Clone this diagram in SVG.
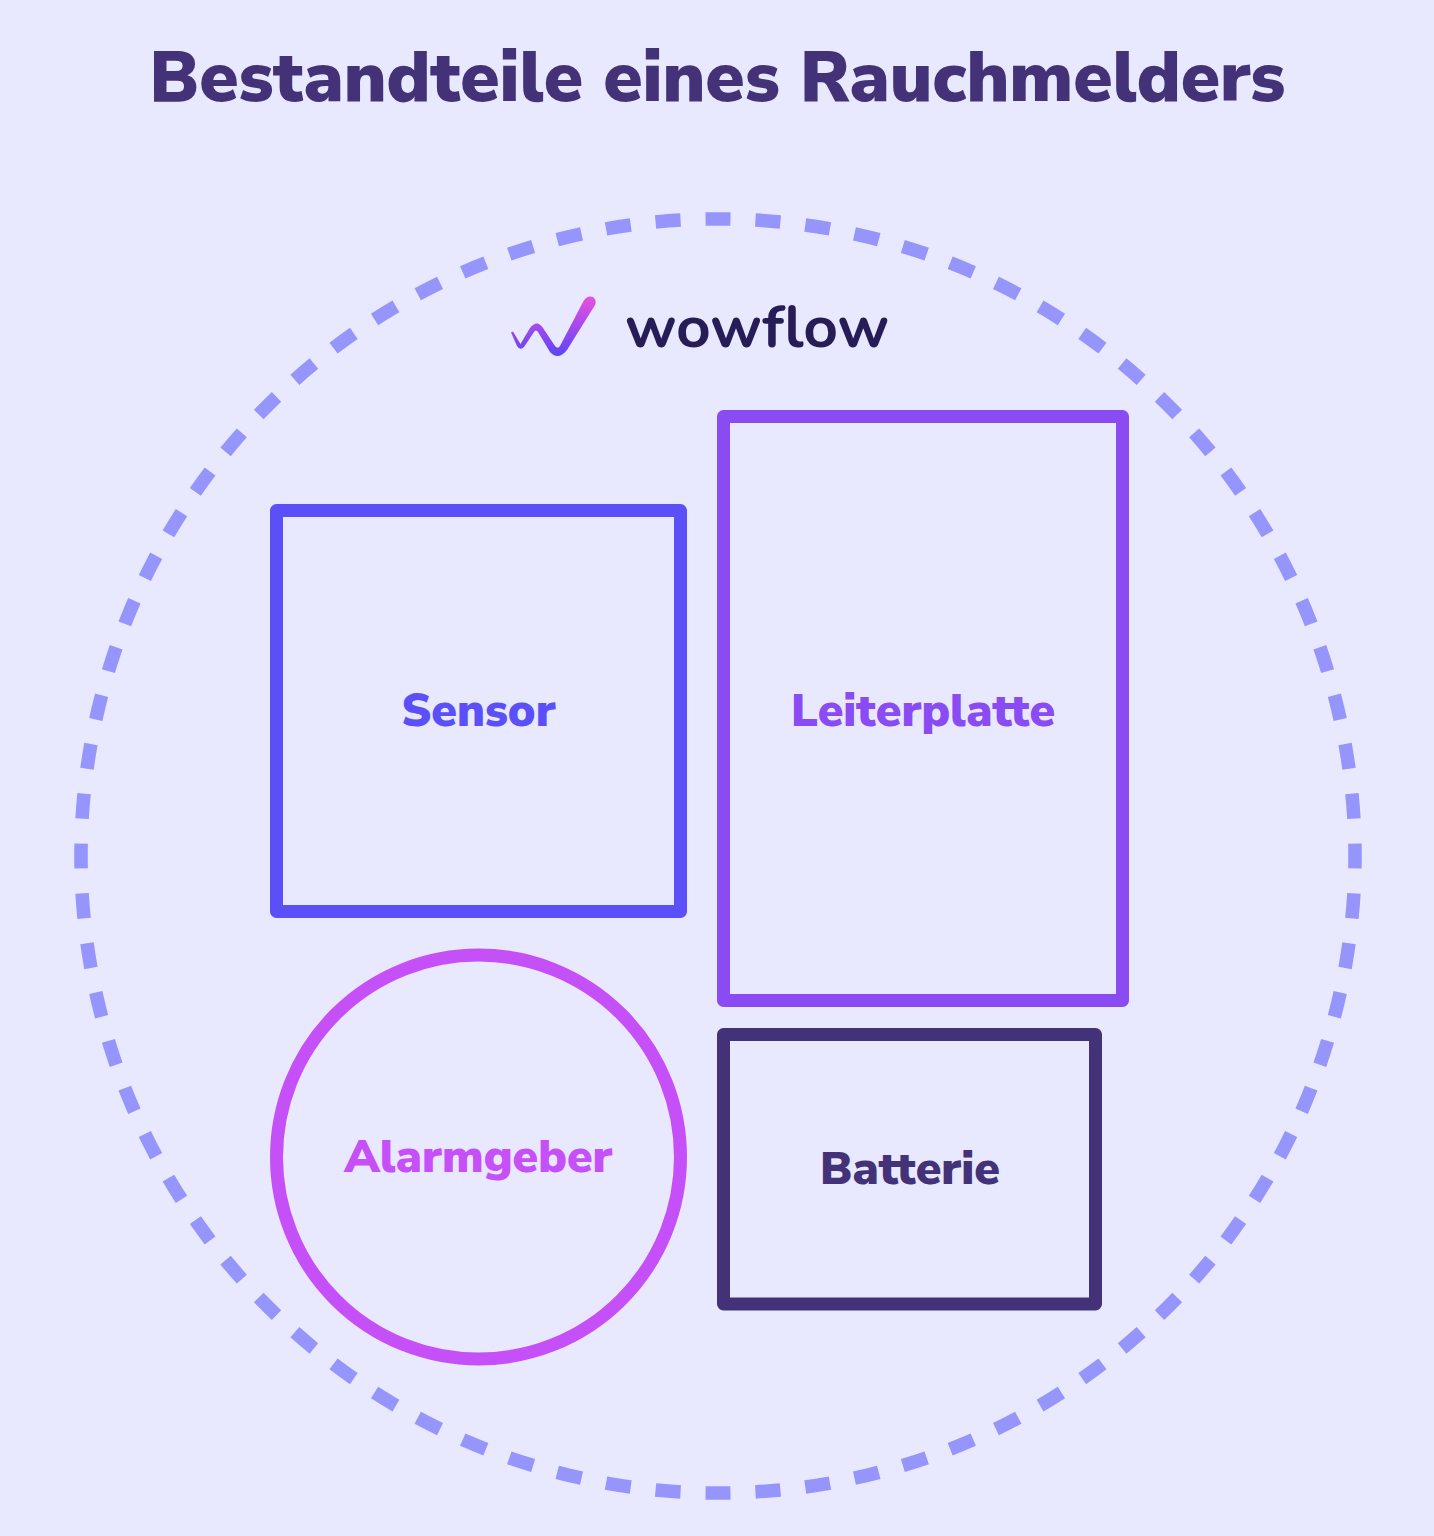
<svg xmlns="http://www.w3.org/2000/svg" width="1434" height="1536" viewBox="0 0 1434 1536">
<style>
.t{font-family:"Nunito Sans","Nunito","Lato","Noto Sans",sans-serif;font-weight:900;text-anchor:middle}
.b{fill:none;stroke-width:13;stroke-linejoin:round}
.l{font-size:46.200px}
</style>
<defs><linearGradient id="g" gradientUnits="userSpaceOnUse" x1="560" y1="356" x2="560" y2="298"><stop offset="0" stop-color="#5b45f7"/><stop offset="1" stop-color="#e84fe0"/></linearGradient></defs>
<rect width="1434" height="1536" fill="#e8e8fe"/>
<text id="title" class="t" x="717.500" y="100.500" font-size="70.800" fill="#433278">Bestandteile eines Rauchmelders</text>
<circle id="outer" cx="718" cy="856" r="637" fill="none" stroke="#9595fb" stroke-width="13.500" pathLength="4000" stroke-dasharray="25 25" stroke-dashoffset="12.500"/>
<g id="logo"><path d="M511 332.500 L513 331.500 L520.500 344 L530 328 Q537 319 543 328 L555 346 Q558 349.500 560 346 L583 302 Q587 295 593 297 Q597 300 595 305 L567 350 Q558 361 550 352 L538 332 Q536 329 534 332 L524 347 Q520 351 517 346 Z" fill="url(#g)"/>
<text x="757" y="347" font-family="Nunito,Lato,sans-serif" font-size="60.500" font-weight="700" fill="#261d56" text-anchor="middle">wowflow</text></g>
<g id="sensor"><rect class="b" x="276.500" y="510.500" width="404" height="401" stroke="#5b50f7"/><text class="t l" x="478.500" y="725.500" fill="#5b50f7">Sensor</text></g>
<g id="leiterplatte"><rect class="b" x="723.500" y="416.500" width="399" height="584" stroke="#8a4bf2"/><text class="t l" x="923" y="725.500" fill="#8a4bf2">Leiterplatte</text></g>
<g id="alarmgeber"><circle class="b" cx="478.500" cy="1157" r="202" stroke="#c650f8"/><text class="t l" x="478.500" y="1172" fill="#c650f8">Alarmgeber</text></g>
<g id="batterie"><rect class="b" x="723.500" y="1034.500" width="372" height="269.500" stroke="#433278"/><text class="t l" x="910" y="1183.500" fill="#433278">Batterie</text></g>
</svg>
